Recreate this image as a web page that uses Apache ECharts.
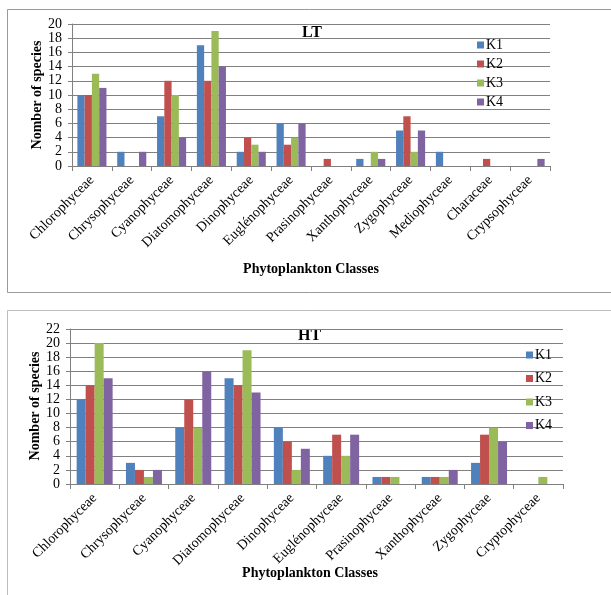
<!DOCTYPE html>
<html>
<head>
<meta charset="utf-8">
<script src="https://cdn.jsdelivr.net/npm/echarts@6/dist/echarts.min.js"></script>
<style>html,body{margin:0;padding:0;background:#fff}#c{width:611px;height:595px}</style>
</head>
<body>
<div id="c"></div>
<script>
const seriesNames = ['K1', 'K2', 'K3', 'K4'];
const colors = ['#4F81BD', '#C0504D', '#9BBB59', '#8064A2'];

const ltCategories = ['Chlorophyceae', 'Chrysophyceae', 'Cyanophyceae', 'Diatomophyceae', 'Dinophyceae', 'Euglénophyceae', 'Prasinophyceae', 'Xanthophyceae', 'Zygophyceae', 'Mediophyceae', 'Characeae', 'Crypsophyceae'];
const ltK1 = [10, 2, 7, 17, 2, 6, 0, 1, 5, 2, 0, 0];
const ltK2 = [10, 0, 12, 12, 4, 3, 1, 0, 7, 0, 1, 0];
const ltK3 = [13, 0, 10, 19, 3, 4, 0, 2, 2, 0, 0, 0];
const ltK4 = [11, 2, 4, 14, 2, 6, 0, 1, 5, 0, 0, 1];

const htCategories = ['Chlorophyceae', 'Chrysophyceae', 'Cyanophyceae', 'Diatomophyceae', 'Dinophyceae', 'Euglénophyceae', 'Prasinophyceae', 'Xanthophyceae', 'Zygophyceae', 'Cryptophyceae'];
const htK1 = [12, 3, 8, 15, 8, 4, 1, 1, 3, 0];
const htK2 = [14, 2, 12, 14, 6, 7, 1, 1, 7, 0];
const htK3 = [20, 1, 8, 19, 2, 4, 1, 1, 8, 1];
const htK4 = [15, 2, 16, 13, 5, 7, 0, 2, 6, 0];

const ltYTicks = [0, 2, 4, 6, 8, 10, 12, 14, 16, 18, 20];
const htYTicks = [0, 2, 4, 6, 8, 10, 12, 14, 16, 18, 20, 22];

const FONT = '"Liberation Serif", "Times New Roman", serif';
const chart = echarts.init(document.getElementById('c'), null, {renderer: 'canvas'});

function xAxis(cats, gi) {
  return {
    type: 'category', gridIndex: gi, data: cats,
    axisLine: {lineStyle: {color: '#808080', width: 1}},
    axisTick: {show: true, length: 5, lineStyle: {color: '#808080'}},
    axisLabel: {interval: 0, rotate: 45, margin: 12, color: '#000', fontFamily: FONT, fontSize: 14}
  };
}
function yAxis(ticks, gi) {
  return {
    type: 'value', gridIndex: gi, min: ticks[0], max: ticks[ticks.length - 1], interval: ticks[1] - ticks[0],
    axisLine: {show: true, lineStyle: {color: '#808080', width: 1}},
    axisTick: {show: true, length: 4, lineStyle: {color: '#808080'}},
    axisLabel: {margin: 10, color: '#000', fontFamily: FONT, fontSize: 14},
    splitLine: {show: true, lineStyle: {color: '#808080', width: 1}}
  };
}

const ltData = [ltK1, ltK2, ltK3, ltK4];
const htData = [htK1, htK2, htK3, htK4];
const series = [];
ltData.forEach((d, i) => series.push({
  name: seriesNames[i], type: 'bar', xAxisIndex: 0, yAxisIndex: 0, data: d,
  itemStyle: {color: colors[i]}, barGap: '0%', barCategoryGap: '27%'
}));
htData.forEach((d, i) => series.push({
  name: seriesNames[i], type: 'bar', xAxisIndex: 1, yAxisIndex: 1, data: d,
  itemStyle: {color: colors[i]}, barGap: '0%', barCategoryGap: '27%'
}));

const legendCommon = {
  orient: 'vertical', icon: 'rect', itemWidth: 7, itemHeight: 7,
  textStyle: {fontFamily: FONT, fontSize: 14, color: '#000', padding: [0, 0, 0, -3]},
  data: seriesNames, selectedMode: false, padding: 0
};

chart.setOption({
  animation: false,
  color: colors,
  grid: [
    {left: 72, top: 24, width: 478, height: 142},
    {left: 70, top: 329, width: 493, height: 155}
  ],
  xAxis: [xAxis(ltCategories, 0), xAxis(htCategories, 1)],
  yAxis: [yAxis(ltYTicks, 0), yAxis(htYTicks, 1)],
  legend: [
    Object.assign({left: 477, top: 38, itemGap: 5}, legendCommon),
    Object.assign({left: 526, top: 348, itemGap: 9.5}, legendCommon)
  ],
  graphic: [
    {type: 'rect', shape: {x: 7.5, y: 9.5, width: 640, height: 283}, style: {fill: 'none', stroke: '#9a9a9a', lineWidth: 1}, z: -1},
    {type: 'rect', shape: {x: 7.5, y: 310.5, width: 640, height: 300}, style: {fill: 'none', stroke: '#bdbdbd', lineWidth: 1}, z: -1},
    {type: 'text', left: 302, top: 25, style: {text: 'LT', font: 'bold 16px ' + FONT, fill: '#000'}},
    {type: 'text', left: 298, top: 328, style: {text: 'HT', font: 'bold 16px ' + FONT, fill: '#000'}},
    {type: 'text', x: 37, y: 95, rotation: Math.PI / 2, style: {text: 'Nomber of species', font: 'bold 14px ' + FONT, fill: '#000', align: 'center', verticalAlign: 'middle'}},
    {type: 'text', x: 35, y: 406, rotation: Math.PI / 2, style: {text: 'Nomber of species', font: 'bold 14px ' + FONT, fill: '#000', align: 'center', verticalAlign: 'middle'}},
    {type: 'text', x: 311, y: 269, style: {text: 'Phytoplankton Classes', font: 'bold 14px ' + FONT, fill: '#000', align: 'center', verticalAlign: 'middle'}},
    {type: 'text', x: 310, y: 573, style: {text: 'Phytoplankton Classes', font: 'bold 14px ' + FONT, fill: '#000', align: 'center', verticalAlign: 'middle'}}
  ],
  series: series
});
</script>
</body>
</html>
